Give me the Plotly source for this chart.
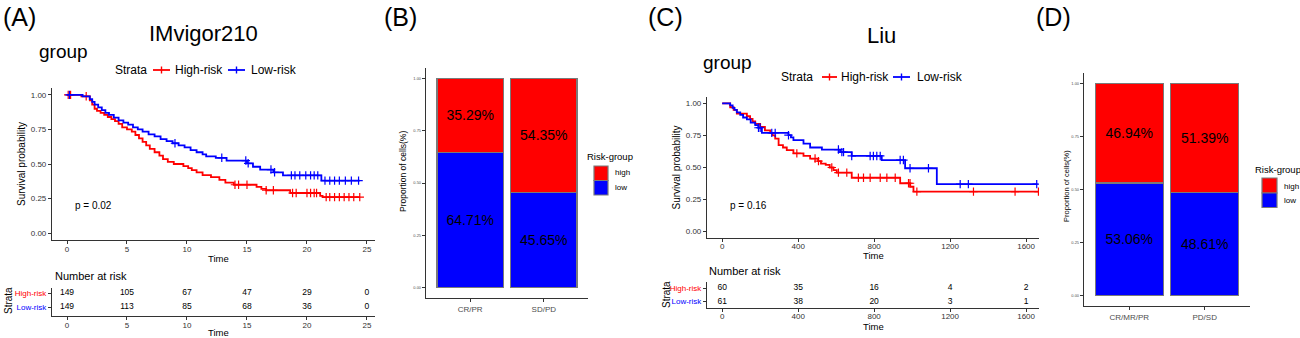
import plotly.graph_objects as go

W, H = 1300, 338
FONT = "Liberation Sans, Arial, Helvetica, sans-serif"
RED = "#FF0000"
BLUE = "#0000FF"
AX = "#333333"

# ---------------- Panel A : IMvigor210 (time in months) ----------------
a_high_time = [0, 1.2, 1.9, 2.1, 2.3, 2.5, 2.8, 3.1, 3.4, 3.7, 4.0, 4.3, 4.6, 5.0, 5.4, 5.7,
               6.0, 6.3, 6.6, 6.9, 7.3, 7.7, 8.0, 8.4, 8.9, 9.7, 10.1, 10.4, 10.8, 11.3, 12.0,
               12.7, 13.2, 13.9, 15.8, 16.2, 16.6, 18.6, 21.1, 21.3]
a_high_surv = [1.0, 0.99, 0.96, 0.93, 0.90, 0.885, 0.87, 0.855, 0.84, 0.825, 0.81, 0.79, 0.765,
               0.75, 0.735, 0.71, 0.685, 0.66, 0.635, 0.61, 0.585, 0.56, 0.535, 0.515, 0.50,
               0.485, 0.47, 0.455, 0.44, 0.42, 0.405, 0.385, 0.365, 0.35, 0.335, 0.32, 0.31,
               0.29, 0.27, 0.26]
a_high_end = 24.4
a_high_cens = [0.1, 0.3, 1.6, 14.0, 14.3, 15.0, 16.6, 17.2, 18.8, 19.1, 20.0, 20.3, 20.6, 20.8,
               21.6, 21.9, 22.3, 22.7, 23.1, 23.5, 23.9, 24.4]

a_low_time = [0, 1.3, 1.9, 2.1, 2.3, 2.6, 2.9, 3.2, 3.5, 3.9, 4.3, 4.7, 5.1, 5.5, 5.9, 6.3, 6.8,
              7.3, 7.8, 8.3, 8.8, 9.3, 9.8, 10.3, 10.8, 11.3, 11.6, 12.4, 13.3, 15.0, 15.5, 16.1,
              17.2, 18.0, 21.2]
a_low_surv = [1.0, 0.99, 0.97, 0.95, 0.93, 0.91, 0.89, 0.87, 0.855, 0.835, 0.815, 0.80, 0.785,
              0.765, 0.75, 0.735, 0.715, 0.70, 0.68, 0.665, 0.65, 0.635, 0.62, 0.60, 0.585, 0.57,
              0.555, 0.545, 0.525, 0.505, 0.48, 0.46, 0.44, 0.418, 0.38]
a_low_end = 24.4
a_low_cens = [0.2, 9.0, 12.9, 14.9, 15.1, 17.0, 17.3, 18.7, 19.0, 19.4, 19.9, 20.3, 20.6, 20.9,
              21.5, 21.9, 22.3, 22.7, 23.2, 23.7, 24.3]

a_risk_times = [0, 5, 10, 15, 20, 25]
a_risk_high = [149, 105, 67, 47, 29, 0]
a_risk_low = [149, 113, 85, 68, 36, 0]
a_xticks = [0, 5, 10, 15, 20, 25]
a_pval = "p = 0.02"

# ---------------- Panel B : IMvigor210 response ----------------
b_categories = ["CR/PR", "SD/PD"]
b_high = [35.29, 54.35]
b_low = [64.71, 45.65]

# ---------------- Panel C : Liu (time in days) ----------------
c_high_time = [0, 42, 60, 77, 130, 147, 160, 174, 200, 225, 253, 265, 279, 297, 320, 340, 375,
               428, 463, 505, 520, 545, 566, 586, 603, 682, 937, 990, 1007]
c_high_surv = [1.0, 0.97, 0.95, 0.92, 0.90, 0.88, 0.86, 0.84, 0.816, 0.79, 0.77, 0.75, 0.725,
               0.675, 0.656, 0.636, 0.61, 0.59, 0.57, 0.55, 0.53, 0.52, 0.50, 0.48, 0.46, 0.42,
               0.377, 0.35, 0.312]
c_high_end = 1668
c_high_cens = [393, 489, 507, 577, 612, 656, 717, 744, 779, 832, 867, 911, 981, 989, 1025, 1323,
               1542, 1665]

c_low_time = [0, 42, 55, 65, 77, 95, 110, 130, 150, 174, 190, 209, 349, 362, 375, 428, 463, 525,
              621, 682, 840, 963, 1130]
c_low_surv = [1.0, 0.985, 0.965, 0.95, 0.93, 0.91, 0.89, 0.875, 0.85, 0.83, 0.81, 0.77, 0.752,
              0.735, 0.713, 0.687, 0.656, 0.64, 0.62, 0.59, 0.558, 0.494, 0.37]
c_low_end = 1660
c_low_cens = [191, 200, 261, 279, 349, 612, 630, 639, 682, 779, 796, 814, 832, 937, 954, 989,
              1086, 1253, 1296, 1656]

c_risk_times = [0, 400, 800, 1200, 1600]
c_risk_high = [60, 35, 16, 4, 2]
c_risk_low = [61, 38, 20, 3, 1]
c_xticks = [0, 400, 800, 1200, 1600]
c_pval = "p = 0.16"

# ---------------- Panel D : Liu response ----------------
d_categories = ["CR/MR/PR", "PD/SD"]
d_high = [46.94, 51.39]
d_low = [53.06, 48.61]

surv_ticks = [0, 0.25, 0.5, 0.75, 1.0]


def px(x):
    return x / W


def py(y):
    return 1 - y / H


def surv_at(times, surv, t):
    val = surv[0]
    for ti, si in zip(times, surv):
        if ti <= t:
            val = si
        else:
            break
    return val


fig = go.Figure()


def add_km(times, surv, end, cens, color, xa, ya):
    fig.add_trace(go.Scatter(
        x=times + [end], y=surv + [surv[-1]], mode="lines",
        line=dict(color=color, width=1.8, shape="hv"),
        xaxis=xa, yaxis=ya, showlegend=False, hoverinfo="skip"))
    fig.add_trace(go.Scatter(
        x=cens, y=[surv_at(times, surv, c) for c in cens], mode="markers",
        marker=dict(symbol="cross-thin", size=6, color=color, line=dict(color=color, width=1.2)),
        xaxis=xa, yaxis=ya, showlegend=False, hoverinfo="skip"))


def add_risk(times, high, low, xa, ya):
    for vals, row in ((high, 1), (low, 0)):
        fig.add_trace(go.Scatter(
            x=times, y=[row] * len(times), mode="text", text=[str(v) for v in vals],
            textfont=dict(family=FONT, size=8.5, color="black"),
            xaxis=xa, yaxis=ya, showlegend=False, hoverinfo="skip"))


def add_bars(cats, high, low, xa, ya):
    for vals, color in ((low, BLUE), (high, RED)):
        fig.add_trace(go.Bar(
            x=cats, y=[v / 100 for v in vals], width=0.9,
            marker=dict(color=color, line=dict(color="#7a7a7a", width=1.2)),
            text=[f"{v:.2f}%" for v in vals], textposition="inside",
            insidetextanchor="middle", textangle=0,
            textfont=dict(family=FONT, size=14, color="black"),
            xaxis=xa, yaxis=ya, showlegend=False, hoverinfo="skip"))


# Panel A
add_km(a_high_time, a_high_surv, a_high_end, a_high_cens, RED, "x", "y")
add_km(a_low_time, a_low_surv, a_low_end, a_low_cens, BLUE, "x", "y")
add_risk(a_risk_times, a_risk_high, a_risk_low, "x2", "y2")
# Panel B
add_bars(b_categories, b_high, b_low, "x3", "y3")
# Panel C
add_km(c_high_time, c_high_surv, c_high_end, c_high_cens, RED, "x4", "y4")
add_km(c_low_time, c_low_surv, c_low_end, c_low_cens, BLUE, "x4", "y4")
add_risk(c_risk_times, c_risk_high, c_risk_low, "x5", "y5")
# Panel D
add_bars(d_categories, d_high, d_low, "x6", "y6")


def ax(**kw):
    d = dict(showline=True, linecolor=AX, linewidth=1.2, ticks="outside", ticklen=3,
             tickwidth=1, tickcolor=AX, showgrid=False, zeroline=False, automargin=False,
             tickfont=dict(family=FONT, size=8, color="#333333"), fixedrange=True)
    d.update(kw)
    return d


risk_ticktext = ['<span style="color:#0000FF">Low-risk</span>',
                 '<span style="color:#FF0000">High-risk</span>']

layout_axes = dict(
    # A KM
    xaxis=ax(domain=[px(52), px(375)], anchor="y", range=[-1.25, 25.67], tickvals=a_xticks,
             ticklabelstandoff=-2),
    yaxis=ax(domain=[py(240), py(88)], anchor="x", range=[-0.05, 1.05], tickvals=surv_ticks,
             tickformat=".2f"),
    # A table
    xaxis2=ax(domain=[px(52), px(375)], anchor="y2", range=[-1.25, 25.67], tickvals=a_xticks,
              ticklabelstandoff=-2),
    yaxis2=ax(domain=[py(316), py(288)], anchor="x2", range=[-0.62, 1.38], tickvals=[0, 1],
              ticktext=risk_ticktext),
    # B bars
    xaxis3=ax(domain=[px(426), px(588)], anchor="y3", range=[-0.6, 1.6], type="category",
              tickfont=dict(family=FONT, size=8, color="#4d4d4d")),
    yaxis3=ax(domain=[py(298), py(68)], anchor="x3", range=[-0.05, 1.05], tickvals=surv_ticks,
              tickformat=".2f", tickfont=dict(family=FONT, size=4, color="#4d4d4d")),
    # C KM
    xaxis4=ax(domain=[px(707), px(1039)], anchor="y4", range=[-80, 1668], tickvals=c_xticks,
              ticklabelstandoff=-3),
    yaxis4=ax(domain=[py(238), py(97)], anchor="x4", range=[-0.05, 1.05], tickvals=surv_ticks,
              tickformat=".2f"),
    # C table
    xaxis5=ax(domain=[px(707), px(1039)], anchor="y5", range=[-80, 1668], tickvals=c_xticks,
              ticklabelstandoff=-3),
    yaxis5=ax(domain=[py(308), py(281.5)], anchor="x5", range=[-0.5, 1.5], tickvals=[0, 1],
              ticktext=risk_ticktext),
    # D bars
    xaxis6=ax(domain=[px(1084), px(1250)], anchor="y6", range=[-0.6, 1.6], type="category",
              tickfont=dict(family=FONT, size=8, color="#4d4d4d")),
    yaxis6=ax(domain=[py(306), py(73)], anchor="x6", range=[-0.05, 1.05], tickvals=surv_ticks,
              tickformat=".2f", tickfont=dict(family=FONT, size=4, color="#4d4d4d")),
)


def note(text, x, y, size, anchor="left", angle=0, color="black"):
    return dict(text=text, x=px(x), y=py(y), xref="paper", yref="paper", showarrow=False,
                xanchor=anchor, yanchor="middle", textangle=angle,
                font=dict(family=FONT, size=size, color=color))


annotations = [
    # panel letters
    note("(A)", 1, 17, 25), note("(B)", 382, 17, 25), note("(C)", 646, 17, 25),
    note("(D)", 1034, 17, 25),
    # Panel A
    note("IMvigor210", 203, 34, 22, "center"),
    note("group", 37, 51, 19),
    note("Strata", 113, 69.5, 12), note("High-risk", 173, 69.5, 12), note("Low-risk", 249, 69.5, 12),
    note("Survival probability", 21, 164, 10, "center", -90),
    note("Time", 218, 258.5, 9.5, "center"),
    note("Number at risk", 53, 276, 11),
    note("Strata", 8, 301, 10, "center", -90),
    note("Time", 218, 332.5, 9.5, "center"),
    dict(text=a_pval, x=0.5, y=0.2, xref="x", yref="y", showarrow=False, xanchor="left",
         yanchor="middle", font=dict(family=FONT, size=10, color="black")),
    # Panel B
    note("Proportion of cells(%)", 403, 172, 8.5, "center", -90),
    note("Risk-group", 585, 156, 9.5),
    note("high", 613, 173, 8), note("low", 613, 188, 8),
    # Panel C
    note("Liu", 881, 36, 22, "center"),
    note("group", 701, 62, 19),
    note("Strata", 779, 77, 12), note("High-risk", 839, 77, 12), note("Low-risk", 915, 77, 12),
    note("Survival probability", 676, 167.5, 10, "center", -90),
    note("Time", 873, 255.5, 9.5, "center"),
    note("Number at risk", 707, 271, 11),
    note("Strata", 666, 295, 10, "center", -90),
    note("Time", 873, 326, 9.5, "center"),
    dict(text=c_pval, x=32, y=0.2, xref="x4", yref="y4", showarrow=False, xanchor="left",
         yanchor="middle", font=dict(family=FONT, size=10, color="black")),
    # Panel D
    note("Proportion of cells(%)", 1066, 186, 7.5, "center", -90),
    note("Risk-group", 1253, 169, 9.5),
    note("high", 1282, 186, 8), note("low", 1282, 200.5, 8),
]


def seg(x0, x1, y, color):
    return dict(type="line", xref="paper", yref="paper", x0=px(x0), x1=px(x1), y0=py(y), y1=py(y),
                line=dict(color=color, width=1.8))


def vtick(x, y, color):
    return dict(type="line", xref="paper", yref="paper", x0=px(x), x1=px(x), y0=py(y - 3.5),
                y1=py(y + 3.5), line=dict(color=color, width=1.4))


def key(x0, x1, y0, y1, color):
    return dict(type="rect", xref="paper", yref="paper", x0=px(x0), x1=px(x1), y0=py(y1),
                y1=py(y0), fillcolor=color, line=dict(color="#7a7a7a", width=1.2))


shapes = [
    seg(153, 170, 70, RED), vtick(161.5, 70, RED), seg(228, 245, 70, BLUE), vtick(236.5, 70, BLUE),
    seg(822, 837, 77, RED), vtick(829.5, 77, RED), seg(893, 910, 77, BLUE), vtick(901.5, 77, BLUE),
    key(594, 608, 166, 180.5, RED), key(594, 608, 180.5, 195, BLUE),
    key(1262, 1277, 178, 193, RED), key(1262, 1277, 193, 207.5, BLUE),
]

fig.update_layout(
    width=W, height=H, autosize=False,
    margin=dict(l=0, r=0, t=0, b=0),
    paper_bgcolor="white", plot_bgcolor="white",
    barmode="stack", bargap=0.1,
    font=dict(family=FONT, color="black"),
    showlegend=False,
    annotations=annotations, shapes=shapes,
    **layout_axes,
)

fig.write_html("out.html", config={"displayModeBar": False})
